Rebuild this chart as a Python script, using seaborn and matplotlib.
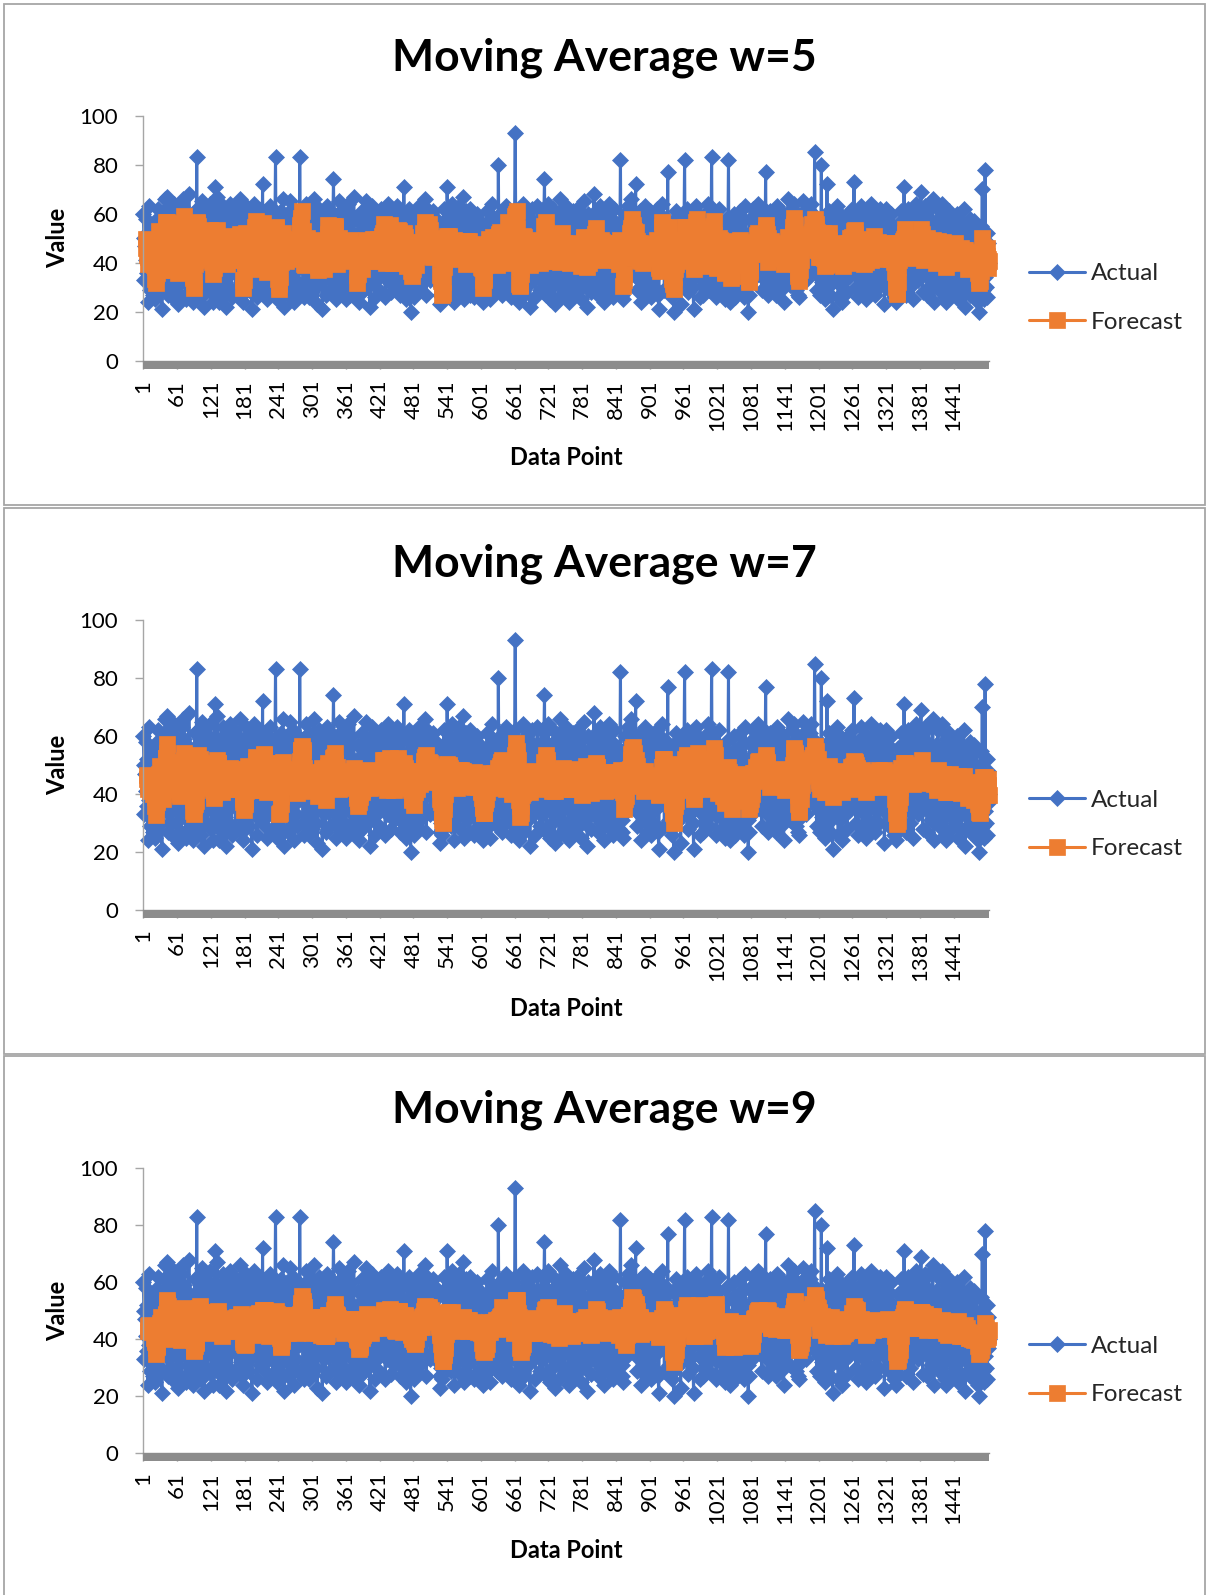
import numpy as np
import pandas as pd
import matplotlib
matplotlib.use("Agg")
import matplotlib.pyplot as plt
from matplotlib.patches import Rectangle
import seaborn as sns

# Observed values, one row per 32 data points
actual = [
    60, 50, 33, 47, 58, 41, 36, 52, 24, 45, 63, 38, 29, 55, 47, 34, 51, 27, 44, 39, 31, 25, 36, 28, 58, 49, 62, 41, 54, 37, 46, 30,
    52, 21, 48, 35, 61, 56, 43, 66, 58, 49, 67, 39, 27, 45, 33, 51, 62, 38, 44, 26, 35, 48, 57, 64, 53, 60, 41, 30, 47, 23, 39, 55,
    44, 36, 58, 27, 63, 55, 66, 52, 59, 41, 34, 49, 25, 57, 46, 38, 31, 68, 50, 43, 29, 54, 33, 26, 31, 24, 35, 47, 61, 39, 52, 83,
    48, 29, 62, 37, 53, 45, 26, 58, 40, 65, 33, 51, 22, 44, 57, 36, 61, 47, 30, 54, 39, 59, 64, 50, 42, 28, 35, 47, 24, 56, 38, 71,
    43, 55, 31, 67, 49, 38, 24, 46, 59, 35, 52, 41, 27, 63, 56, 44, 33, 58, 48, 22, 37, 53, 61, 45, 30, 50, 40, 64, 36, 26, 47, 57,
    39, 62, 44, 51, 28, 56, 47, 35, 60, 42, 53, 37, 66, 45, 32, 27, 36, 24, 30, 48, 58, 41, 50, 63, 34, 46, 55, 29, 52, 43, 61, 38,
    45, 21, 50, 34, 58, 64, 55, 61, 47, 40, 26, 53, 37, 59, 44, 31, 49, 62, 56, 43, 72, 38, 57, 46, 29, 35, 51, 42, 25, 60, 48, 33,
    54, 41, 63, 36, 47, 57, 28, 44, 52, 33, 59, 83, 46, 38, 25, 31, 27, 35, 29, 49, 61, 42, 55, 37, 66, 48, 22, 56, 40, 51, 34, 60,
    42, 27, 53, 46, 65, 39, 31, 58, 48, 36, 62, 44, 24, 51, 57, 33, 45, 29, 60, 41, 54, 38, 83, 55, 56, 59, 52, 43, 30, 47, 26, 49,
    55, 38, 64, 45, 32, 50, 26, 61, 43, 36, 57, 48, 28, 53, 40, 66, 34, 47, 59, 30, 44, 23, 37, 52, 62, 41, 49, 35, 58, 46, 21, 39,
    48, 33, 56, 42, 27, 60, 51, 63, 57, 45, 36, 29, 53, 40, 61, 47, 34, 58, 74, 55, 49, 38, 25, 44, 59, 31, 52, 43, 65, 37, 46, 28,
    41, 54, 36, 62, 47, 30, 58, 44, 25, 51, 39, 64, 48, 35, 56, 43, 27, 60, 46, 33, 52, 40, 67, 45, 31, 38, 26, 34, 29, 49, 57, 42,
    24, 37, 45, 53, 28, 61, 46, 39, 56, 33, 50, 42, 65, 47, 30, 55, 38, 59, 44, 22, 49, 36, 63, 51, 41, 57, 32, 48, 26, 54, 43, 60,
    39, 52, 46, 29, 58, 43, 35, 62, 56, 48, 60, 53, 37, 45, 26, 50, 41, 57, 33, 64, 47, 55, 59, 51, 40, 28, 44, 36, 61, 31, 49, 54,
    45, 37, 58, 63, 52, 57, 34, 48, 27, 42, 55, 39, 61, 30, 46, 71, 53, 38, 44, 25, 50, 36, 59, 47, 33, 62, 41, 20, 28, 35, 48, 56,
    40, 26, 51, 44, 34, 60, 47, 29, 55, 38, 63, 42, 31, 57, 49, 36, 58, 61, 53, 46, 66, 39, 52, 27, 56, 62, 48, 59, 54, 43, 33, 47,
    52, 44, 36, 61, 57, 41, 49, 33, 58, 46, 39, 55, 42, 35, 48, 27, 23, 30, 26, 28, 31, 45, 62, 37, 50, 43, 56, 34, 71, 47, 40, 59,
    38, 53, 29, 46, 64, 41, 35, 57, 50, 24, 44, 60, 37, 48, 32, 55, 43, 63, 28, 51, 40, 58, 34, 46, 67, 39, 25, 53, 45, 36, 61, 49,
    31, 47, 56, 42, 27, 62, 38, 51, 45, 34, 59, 43, 26, 54, 40, 48, 36, 60, 33, 44, 52, 29, 57, 41, 30, 35, 27, 32, 24, 46, 39, 55,
    43, 28, 50, 61, 37, 45, 56, 33, 48, 25, 53, 41, 64, 36, 58, 47, 31, 52, 39, 44, 29, 57, 42, 80, 46, 34, 60, 38, 49, 55, 27, 45,
    59, 36, 52, 44, 30, 63, 57, 49, 61, 54, 40, 33, 47, 26, 55, 42, 38, 60, 45, 35, 62, 93, 51, 58, 41, 28, 29, 34, 24, 37, 31, 50,
    45, 57, 39, 64, 48, 27, 53, 42, 35, 60, 46, 31, 55, 38, 50, 22, 44, 58, 36, 62, 41, 49, 33, 56, 47, 26, 52, 39, 63, 43, 34, 54,
    40, 29, 51, 46, 37, 58, 33, 48, 61, 74, 44, 56, 27, 53, 38, 45, 64, 35, 49, 25, 42, 57, 30, 50, 39, 62, 47, 23, 36, 55, 43, 59,
    34, 48, 41, 26, 53, 66, 45, 37, 60, 31, 50, 43, 57, 28, 46, 39, 63, 52, 35, 44, 24, 55, 41, 58, 36, 49, 30, 61, 47, 42, 27, 54,
    46, 38, 62, 33, 51, 57, 29, 44, 40, 55, 25, 48, 36, 59, 43, 65, 50, 31, 47, 53, 38, 22, 45, 60, 34, 52, 41, 28, 56, 44, 37, 49,
    55, 68, 39, 47, 61, 32, 44, 53, 27, 58, 41, 36, 63, 49, 30, 45, 56, 38, 52, 24, 42, 60, 35, 47, 29, 54, 40, 64, 46, 33, 51, 43,
    37, 58, 44, 26, 50, 62, 41, 35, 53, 47, 30, 56, 39, 45, 28, 52, 82, 36, 31, 27, 33, 25, 48, 43, 60, 38, 55, 46, 34, 63, 42, 57,
    41, 58, 66, 49, 60, 57, 44, 59, 44, 35, 52, 72, 38, 47, 29, 55, 42, 33, 61, 49, 37, 24, 53, 45, 40, 58, 31, 46, 63, 36, 50, 27,
    45, 54, 33, 48, 39, 61, 26, 52, 43, 57, 36, 47, 30, 58, 41, 50, 35, 62, 44, 27, 21, 39, 53, 60, 56, 64, 51, 42, 37, 55, 29, 48,
    36, 43, 58, 46, 77, 40, 52, 31, 47, 28, 35, 26, 38, 29, 34, 20, 49, 56, 38, 61, 44, 34, 53, 42, 59, 37, 48, 23, 55, 45, 32, 50,
    44, 57, 82, 39, 51, 35, 62, 47, 28, 54, 41, 60, 33, 48, 37, 56, 43, 30, 21, 46, 58, 61, 55, 63, 52, 40, 49, 34, 57, 45, 26, 53,
    38, 49, 27, 56, 43, 35, 60, 46, 31, 52, 40, 64, 47, 29, 55, 42, 36, 50, 83, 44, 58, 39, 61, 55, 33, 48, 26, 45, 37, 53, 41, 62,
    57, 34, 45, 28, 52, 39, 31, 47, 36, 25, 43, 58, 33, 49, 27, 54, 82, 30, 41, 24, 38, 35, 46, 29, 55, 37, 60, 42, 26, 50, 44, 32,
    48, 56, 37, 44, 61, 29, 53, 40, 35, 57, 46, 26, 51, 42, 63, 34, 49, 38, 31, 20, 27, 45, 58, 36, 52, 43, 33, 62, 47, 39, 54, 41,
    55, 47, 60, 38, 52, 64, 43, 50, 35, 58, 45, 29, 56, 41, 53, 62, 36, 48, 77, 44, 33, 57, 40, 27, 51, 46, 61, 37, 49, 30, 54, 42,
    36, 59, 44, 50, 27, 55, 40, 63, 48, 33, 52, 45, 38, 61, 29, 47, 56, 42, 24, 53, 39, 46, 58, 34, 51, 43, 66, 37, 49, 31, 45, 57,
    41, 62, 55, 58, 64, 53, 46, 38, 29, 50, 35, 27, 31, 26, 44, 57, 48, 60, 36, 52, 43, 65, 39, 54, 47, 33, 58, 41, 61, 45, 50, 37,
    55, 61, 42, 64, 58, 37, 56, 49, 47, 85, 52, 38, 58, 29, 49, 53, 34, 46, 55, 27, 50, 80, 41, 32, 57, 44, 36, 25, 51, 40, 47, 72,
    43, 30, 54, 61, 27, 48, 39, 56, 35, 21, 46, 58, 44, 33, 52, 40, 63, 37, 49, 26, 55, 42, 60, 31, 47, 24, 53, 38, 45, 57, 34, 50,
    39, 56, 45, 28, 60, 51, 34, 47, 58, 42, 54, 36, 62, 49, 44, 73, 38, 55, 30, 46, 57, 41, 26, 52, 43, 59, 35, 48, 63, 37, 29, 53,
    46, 33, 57, 41, 25, 52, 44, 60, 37, 49, 31, 55, 42, 28, 64, 47, 36, 58, 50, 39, 27, 54, 45, 61, 34, 48, 40, 56, 30, 43, 62, 38,
    51, 44, 36, 59, 47, 23, 55, 40, 62, 33, 48, 57, 38, 45, 29, 53, 42, 60, 35, 50, 46, 39, 41, 26, 30, 24, 29, 27, 31, 49, 56, 43,
    37, 52, 45, 61, 34, 48, 56, 40, 71, 44, 58, 27, 53, 47, 35, 62, 50, 42, 30, 55, 46, 38, 59, 51, 25, 49, 43, 57, 36, 64, 41, 54,
    48, 33, 60, 45, 39, 56, 69, 42, 52, 28, 47, 37, 58, 44, 63, 35, 50, 27, 54, 41, 63, 36, 47, 57, 31, 49, 43, 66, 38, 24, 52, 45,
    40, 57, 34, 49, 62, 43, 29, 53, 46, 38, 55, 31, 64, 42, 50, 36, 26, 47, 59, 24, 44, 52, 37, 61, 45, 33, 56, 40, 28, 51, 43, 58,
    36, 48, 55, 30, 44, 39, 60, 47, 25, 52, 41, 34, 57, 45, 28, 50, 38, 43, 62, 33, 49, 22, 46, 54, 37, 29, 51, 42, 35, 58, 27, 44,
    39, 53, 31, 46, 26, 57, 42, 35, 50, 28, 44, 33, 24, 38, 20, 47, 55, 36, 43, 70, 29, 41, 25, 34, 78, 30, 45, 26, 52, 37, 48, 40,
]

window_sizes = [5, 7, 9]
chart_titles = ["Moving Average w=5", "Moving Average w=7", "Moving Average w=9"]
series_names = ["Actual", "Forecast"]
x_axis_title = "Data Point"
y_axis_title = "Value"
x_tick_values = [1, 61, 121, 181, 241, 301, 361, 421, 481, 541, 601, 661, 721,
                 781, 841, 901, 961, 1021, 1081, 1141, 1201, 1261, 1321, 1381, 1441]
x_tick_labels = ["1", "61", "121", "181", "241", "301", "361", "421", "481", "541",
                 "601", "661", "721", "781", "841", "901", "961", "1021", "1081",
                 "1141", "1201", "1261", "1321", "1381", "1441"]
y_tick_values = [0, 20, 40, 60, 80, 100]
y_tick_labels = ["0", "20", "40", "60", "80", "100"]

BLUE = "#4472C4"
ORANGE = "#ED7D31"
AXIS_GREY = "#a6a6a6"
BAND_GREY = "#8c8c8c"
FRAME_GREY = "#a6a6a6"

W, H = 1207, 1595

sns.set_style("white")
plt.rcParams["font.family"] = ["Lato", "DejaVu Sans"]

fig = plt.figure(figsize=(W / 100, H / 100), dpi=100)


def fx(px):
    return px / W


def fy(py):
    return 1 - py / H


# pixel layout of each chart block:
# frame top/bottom, plot top/bottom, title baseline, x-title baseline, legend centre
blocks = [
    dict(frame=(4, 505), plot=(115.7, 360.7), title=71, xtitle=465, legend=298),
    dict(frame=(508, 1054), plot=(620, 910), title=576, xtitle=1016, legend=824.5),
    dict(frame=(1056, 1640), plot=(1168.3, 1453.3), title=1123, xtitle=1558, legend=1370.5),
]
PLOT_LEFT, PLOT_RIGHT = 143, 989.3
FRAME_LEFT, FRAME_RIGHT = 4, 1205

n_points = len(actual)
df = pd.DataFrame({x_axis_title: np.arange(1, n_points + 1), "Actual": actual})

for w, title, blk in zip(window_sizes, chart_titles, blocks):
    ft, fb = blk["frame"]
    fig.add_artist(Rectangle((fx(FRAME_LEFT), fy(fb)), fx(FRAME_RIGHT - FRAME_LEFT),
                             (fb - ft) / H, transform=fig.transFigure, fill=False,
                             edgecolor=FRAME_GREY, linewidth=1.3, clip_on=False))

    pt, pb = blk["plot"]
    ax = fig.add_axes([fx(PLOT_LEFT), fy(pb), fx(PLOT_RIGHT - PLOT_LEFT), (pb - pt) / H])

    data = df.copy()
    data["Forecast"] = data["Actual"].rolling(w).mean()

    sns.lineplot(data=data, x=x_axis_title, y="Actual", ax=ax, color=BLUE,
                 linewidth=2.2, marker="D", markersize=8.5, markeredgecolor=BLUE,
                 markeredgewidth=0.5, estimator=None, sort=False,
                 label=series_names[0], clip_on=False)
    sns.lineplot(data=data, x=x_axis_title, y="Forecast", ax=ax, color=ORANGE,
                 linewidth=2.2, marker="s", markersize=12, markeredgecolor=ORANGE,
                 markeredgewidth=0.5, estimator=None, sort=False,
                 label=series_names[1], clip_on=False)

    ax.set_xlim(0.5, n_points + 0.5)
    ax.set_ylim(0, 100)
    ax.set_xticks(x_tick_values)
    ax.set_xticklabels(x_tick_labels, rotation=90)
    ax.set_yticks(y_tick_values)
    ax.set_yticklabels(y_tick_labels)
    ax.set_xlabel("")
    ax.set_ylabel("")

    ax.tick_params(axis="y", length=5.8, width=1, color=AXIS_GREY, pad=12,
                   labelsize=16, labelcolor="black", left=True)
    ax.tick_params(axis="x", length=5.8, width=1, color=BAND_GREY, pad=8,
                   labelsize=16, labelcolor="black", bottom=True)
    for side in ("top", "right"):
        ax.spines[side].set_visible(False)
    ax.spines["left"].set_color(AXIS_GREY)
    ax.spines["left"].set_linewidth(1)
    ax.spines["bottom"].set_color(BAND_GREY)
    ax.spines["bottom"].set_linewidth(1)

    # dense category tick marks along the category axis
    band_h = 8 / (pb - pt)
    ax.add_patch(Rectangle((0, -band_h), 1, band_h, transform=ax.transAxes,
                           facecolor=BAND_GREY, edgecolor="none", clip_on=False))

    handles, labels = ax.get_legend_handles_labels()
    ax.legend(handles, labels, loc="center left",
              bbox_to_anchor=(fx(1029), fy(blk["legend"])),
              bbox_transform=fig.transFigure, frameon=False, borderpad=0,
              borderaxespad=0, handlelength=2.3, handletextpad=0.25,
              labelspacing=1.15, fontsize=17.5)

    fig.text(fx((FRAME_LEFT + FRAME_RIGHT) / 2), fy(blk["title"]), title,
             ha="center", va="baseline", fontsize=32, fontweight="bold", color="black")
    fig.text(fx((PLOT_LEFT + PLOT_RIGHT) / 2), fy(blk["xtitle"]), x_axis_title,
             ha="center", va="baseline", fontsize=17, fontweight="bold", color="black")
    fig.text(fx(57.5), fy((pt + pb) / 2), y_axis_title, rotation=90,
             ha="center", va="center", fontsize=17, fontweight="bold", color="black")

fig.savefig("out.png", dpi=100, facecolor="white")
